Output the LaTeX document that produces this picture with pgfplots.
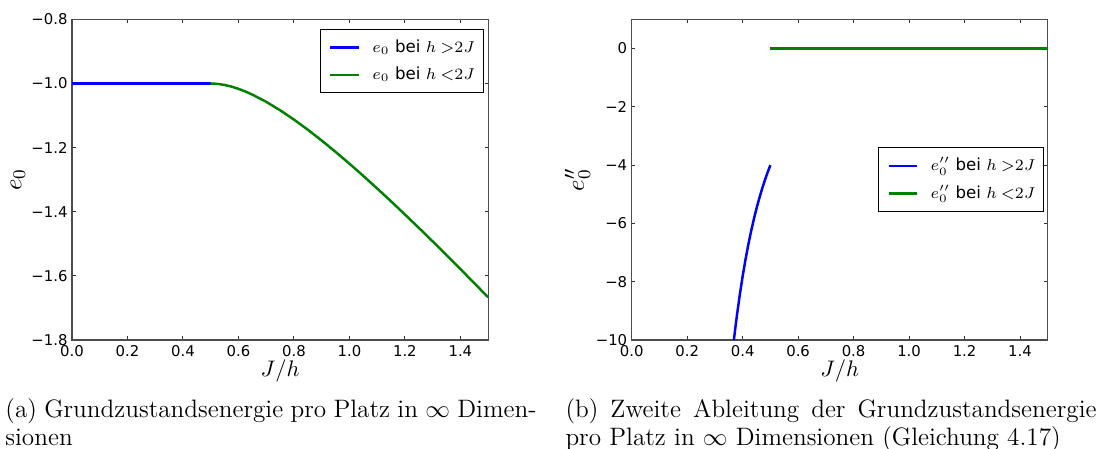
\documentclass[border=0pt]{standalone}
\usepackage{fontspec}
\usepackage{pgfplots}
\pgfplotsset{compat=1.18}
\newfontfamily\dejavu{DejaVu Sans}
\definecolor{mplblue}{RGB}{0,0,255}
\definecolor{mplgreen}{RGB}{0,128,0}
\newcommand\lgap{\rule{5.5pt}{0pt}}
\pgfplotsset{
  mystyle/.style={
    scale only axis,
    width=184.9pt, height=142.5pt,
    xmin=0, xmax=1.5,
    axis line style={black!70, line width=0.5pt},
    tick style={black!80, line width=0.45pt},
    major tick length=1.6pt,
    tick align=inside,
    xtick={0,0.2,0.4,0.6,0.8,1.0,1.2,1.4},
    xticklabels={0.0,0.2,0.4,0.6,0.8,1.0,1.2,1.4},
    ticklabel style={font=\dejavu\fontsize{6.6}{7.5}\selectfont},
    xticklabel style={anchor=north, inner sep=0pt, yshift=-2.2pt},
    yticklabel style={anchor=east, inner sep=0pt, xshift=-1.8pt},
    xlabel={$J/h$},
    xlabel style={at={(axis description cs:0.5,-0.097)}, anchor=center, font=\fontsize{10}{11}\selectfont},
    ylabel style={at={(axis description cs:-0.130,0.5)}, anchor=center, rotate=0, font=\fontsize{11}{12}\selectfont},
    legend style={draw=black, line width=0.45pt, fill=white,
      font=\dejavu\fontsize{7.4}{8.5}\selectfont,
      inner xsep=3.8pt, inner ysep=4.4pt, row sep=5pt,
      nodes={inner sep=0pt},
      cells={anchor=west}},
    legend image code/.code={\draw[#1] (0.6pt,0pt) -- (13.2pt,0pt);},
    every axis plot/.append style={line width=1.1pt},
  }
}
\begin{document}
\begin{tikzpicture}
\path[use as bounding box] (0,0) rectangle (489.7pt,199.1pt);
% left axis
\begin{axis}[mystyle,
  at={(32.0pt,48.0pt)}, anchor=south west,
  ymin=-1.8, ymax=-0.8,
  ytick={-1.8,-1.6,-1.4,-1.2,-1.0,-0.8},
  yticklabels={−1.8,−1.6,−1.4,−1.2,−1.0,−0.8},
  ylabel={$e_0$},
  legend style={at={(0.990,0.969)}, anchor=north east},
]
\addplot[mplblue, line width=1.1pt] coordinates {(0,-1) (0.5,-1)};
\addlegendentry{\lgap$e_0$ bei $h\mkern4mu{>}2J$}
\addplot[mplgreen, line width=1.1pt] coordinates {
(0.500,-1.000000) (0.525,-1.001190) (0.550,-1.004545) (0.575,-1.009783)
(0.600,-1.016667) (0.625,-1.025000) (0.650,-1.034615) (0.700,-1.057143)
(0.750,-1.083333) (0.800,-1.112500) (0.850,-1.144118) (0.900,-1.177778)
(0.950,-1.213158) (1.000,-1.250000) (1.050,-1.288095) (1.100,-1.327273)
(1.150,-1.367391) (1.200,-1.408333) (1.250,-1.450000) (1.300,-1.492308)
(1.350,-1.535185) (1.400,-1.578571) (1.450,-1.622414) (1.500,-1.666667)};
\addlegendentry{\lgap$e_0$ bei $h\mkern4mu{<}2J$}
\end{axis}
% right axis
\begin{axis}[mystyle,
  at={(280.7pt,48.0pt)}, anchor=south west,
  ymin=-10, ymax=1,
  ytick={-10,-8,-6,-4,-2,0},
  yticklabels={−10,−8,−6,−4,−2,0},
  ylabel={$e_0''$},
  legend style={at={(0.992,0.5)}, anchor=east},
]
\addplot[mplblue, line width=1.1pt] coordinates {
(0.3684,-10.000) (0.375,-9.481) (0.380,-9.112) (0.390,-8.429) (0.400,-7.813)
(0.410,-7.255) (0.420,-6.749) (0.430,-6.289) (0.440,-5.870) (0.450,-5.487)
(0.460,-5.137) (0.470,-4.816) (0.480,-4.521) (0.490,-4.250) (0.500,-4.000)};
\addlegendentry{\lgap$e_0''$ bei $h\mkern4mu{>}2J$}
\addplot[mplgreen, line width=1.1pt] coordinates {(0.5,0) (1.5,0)};
\addlegendentry{\lgap$e_0''$ bei $h\mkern4mu{<}2J$}
\end{axis}
% captions
\fontsize{11.2}{12.3}\selectfont
\node[anchor=base west, inner sep=0pt] at (2.2pt,13.6pt)
  {\makebox[236pt][s]{(a) Grundzustandsenergie pro Platz in $\infty$ Dimen-}};
\node[anchor=base west, inner sep=0pt] at (2.2pt,1.3pt) {sionen};
\node[anchor=base west, inner sep=0pt] at (251.1pt,13.6pt)
  {\makebox[236pt][s]{(b) Zweite Ableitung der Grundzustandsenergie}};
\node[anchor=base west, inner sep=0pt] at (251.1pt,1.3pt)
  {pro Platz in $\infty$ Dimensionen (Gleichung 4.17)};
\end{tikzpicture}
\end{document}
